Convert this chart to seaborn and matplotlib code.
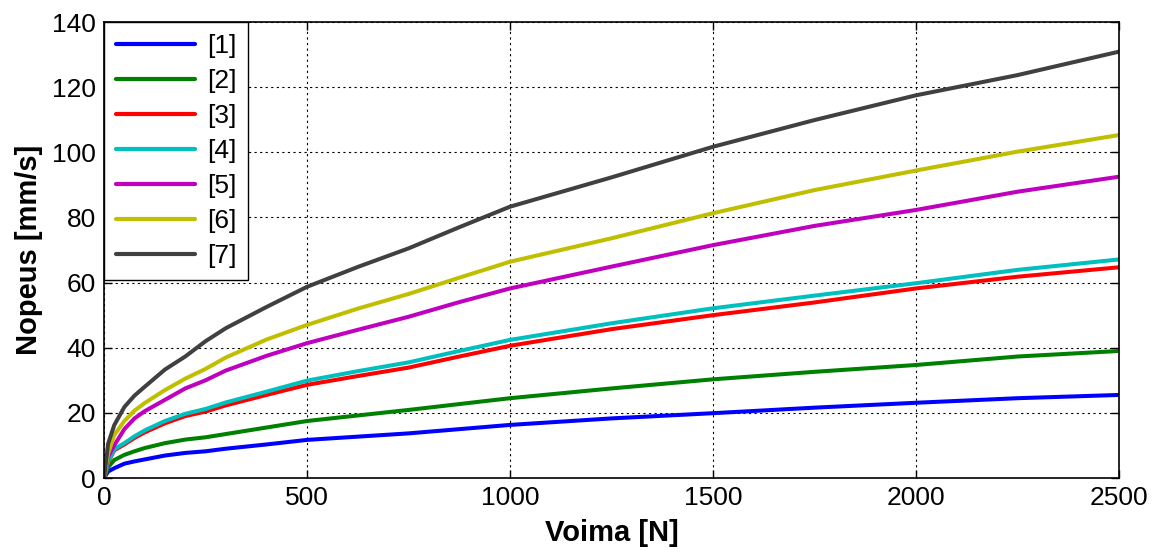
import numpy as np
import pandas as pd
import matplotlib
matplotlib.use("Agg")
import matplotlib.pyplot as plt
import seaborn as sns

force = [0, 10, 25, 50, 75, 100, 150, 200, 250, 300, 400, 500, 625, 750, 875,
         1000, 1250, 1500, 1750, 2000, 2250, 2500]
s1 = [0, 2.0, 3.0, 4.4, 5.1, 5.7, 6.9, 7.7, 8.2, 9.0, 10.3, 11.7, 12.7, 13.7, 15.0,
      16.3, 18.3, 19.9, 21.6, 23.1, 24.5, 25.5]
s2 = [0, 3.3, 5.5, 7.1, 8.2, 9.2, 10.7, 11.8, 12.5, 13.5, 15.5, 17.5, 19.2, 20.9, 22.7,
      24.5, 27.5, 30.3, 32.6, 34.7, 37.3, 39.0]
s3 = [0, 4.8, 8.5, 10.3, 12.3, 14.0, 16.8, 19.0, 20.4, 22.3, 25.5, 28.6, 31.3, 33.9, 37.3,
      40.6, 45.7, 50.0, 53.9, 58.2, 61.8, 64.7]
s4 = [0, 5.0, 8.8, 10.7, 12.8, 14.6, 17.5, 19.7, 21.2, 23.2, 26.5, 29.9, 32.8, 35.5, 39.0,
      42.4, 47.5, 52.1, 56.0, 59.8, 63.9, 67.1]
s5 = [0, 6.5, 10.0, 15.0, 18.3, 20.5, 24.0, 27.5, 30.0, 33.0, 37.5, 41.4, 45.5, 49.5, 54.0,
      58.2, 64.9, 71.5, 77.4, 82.3, 87.9, 92.5]
s6 = [0, 7.5, 13.2, 17.5, 20.7, 23.0, 27.0, 30.5, 33.5, 37.0, 42.5, 47.0, 52.0, 56.5, 61.5,
      66.4, 73.6, 81.3, 88.4, 94.4, 100.2, 105.3]
s7 = [0, 10.5, 16.2, 21.8, 25.3, 28.0, 33.3, 37.3, 42.0, 46.0, 52.5, 58.7, 64.8, 70.5, 77.0,
      83.3, 92.3, 101.7, 109.9, 117.5, 123.7, 130.9]
labels = ["[1]", "[2]", "[3]", "[4]", "[5]", "[6]", "[7]"]
colors = ["#0000ff", "#008000", "#ff0000", "#00bfbf", "#bf00bf", "#bfbf00", "#404040"]

series = [s1, s2, s3, s4, s5, s6, s7]
df = pd.concat([pd.DataFrame({"Voima": force, "Nopeus": s, "sarja": lab})
                for s, lab in zip(series, labels)], ignore_index=True)

sns.set_style("white")
plt.rcParams["font.family"] = ["Liberation Sans", "DejaVu Sans"]
plt.rcParams["text.color"] = "black"
plt.rcParams["axes.labelcolor"] = "black"

fig = plt.figure(figsize=(11.6, 5.5), dpi=100)
ax = fig.add_axes([0.0897, 0.1309, 0.8750, 0.8291])

sns.lineplot(data=df, x="Voima", y="Nopeus", hue="sarja", palette=colors,
             hue_order=labels, linewidth=2.9, ax=ax, legend=False, sort=False,
             estimator=None)

ax.set_xlim(0, 2500)
ax.set_ylim(0, 140)
ax.set_xticks([0, 500, 1000, 1500, 2000, 2500])
ax.set_yticks([0, 20, 40, 60, 80, 100, 120, 140])
ax.grid(True, color="black", linestyle=(0, (2, 3)), linewidth=0.8)
ax.tick_params(direction="in", length=6, width=1, labelsize=19, colors="black",
               top=True, right=True, bottom=True, left=True, pad=6)
for sp in ax.spines.values():
    sp.set_visible(True)
    sp.set_color("black")
    sp.set_linewidth(1.2)
ax.set_xlabel("Voima [N]", fontsize=21, fontweight="bold", labelpad=6)
ax.set_ylabel("Nopeus [mm/s]", fontsize=21, fontweight="bold", labelpad=6)

handles = [plt.Line2D([], [], color=c, linewidth=3) for c in colors]
leg = ax.legend(handles, labels, loc="upper left", fontsize=19, frameon=True,
                fancybox=False, edgecolor="black", framealpha=1,
                borderaxespad=0, handlelength=3.0, labelspacing=0.42,
                borderpad=0.45, handletextpad=0.45)
leg.get_frame().set_linewidth(1.0)

fig.savefig("out.png", dpi=100)
